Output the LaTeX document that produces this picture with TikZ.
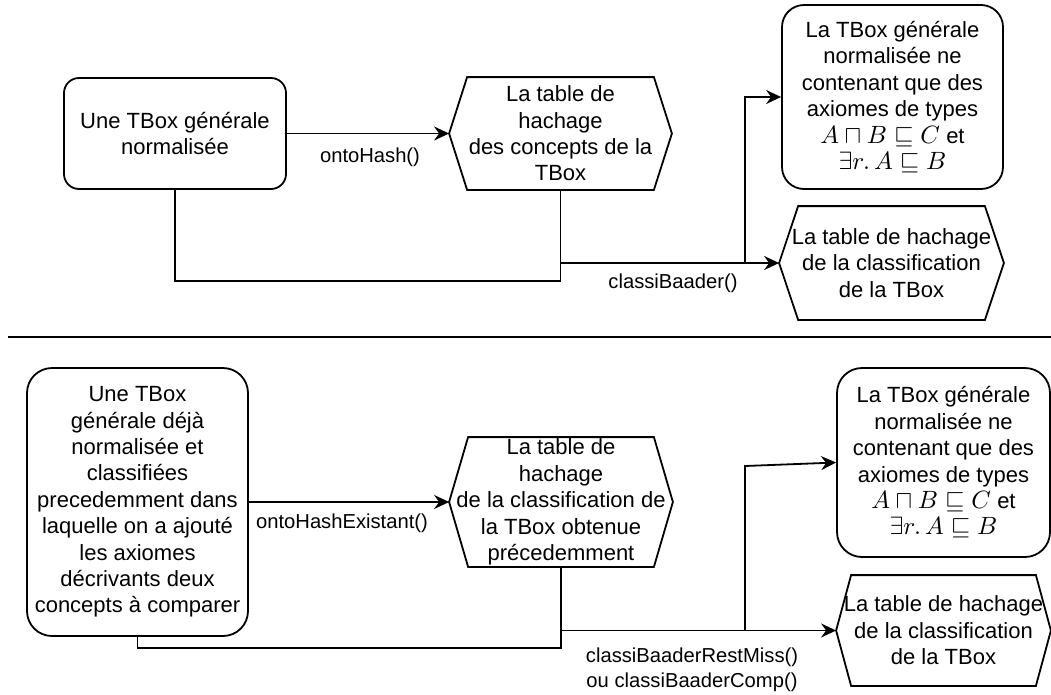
\documentclass[tikz,border=0pt]{standalone}
\usepackage{graphicx}
\usepackage{fontspec}
\setmainfont{Liberation Sans}
\usetikzlibrary{arrows.meta}

% hexagonal outline around a (rectangular, undrawn) node: name, slant
\newcommand\hexoutline[2]{%
  \draw (#1.west) -- ([xshift=#2]#1.north west) -- ([xshift=-#2]#1.north east)
    -- (#1.east) -- ([xshift=-#2]#1.south east) -- ([xshift=#2]#1.south west) -- cycle;}
% formula set at 10pt and scaled up to about 25pt
\newcommand\bigformula[1]{{\fontsize{10}{12}\selectfont\scalebox{2.5}{$#1$}}}

\begin{document}
\begin{tikzpicture}[x=1pt,y=-1pt,
  line width=1.8pt,
  boxtext/.style={font=\fontsize{22}{26.4}\selectfont, align=center, inner sep=0pt},
  roundbox/.style={boxtext, draw, rounded corners=#1},
  hexbox/.style={boxtext},
  lbl/.style={font=\fontsize{20.2}{25}\selectfont, align=center, inner sep=0pt},
  flow/.style={-{Stealth[length=15pt,width=14pt,inset=5pt]}}
]
\useasboundingbox (0,0) rectangle (1051,694);

% ---------- first stage ----------
\node[roundbox=15pt, minimum width=222pt, minimum height=111pt] (a1) at (175,133.5)
  {Une TBox générale\\normalisée};
\node[hexbox, minimum width=221pt, minimum height=111pt] (h1) at (560.5,133.5)
  {La table de\\hachage\\des concepts de la\\TBox};
\hexoutline{h1}{18pt}
\node[roundbox=22pt, minimum width=221pt, minimum height=184pt] (b1) at (892.5,97)
  {La TBox générale\\normalisée ne\\contenant que des\\axiomes de types\\\bigformula{A\sqcap B\sqsubseteq C} et\\\bigformula{\exists r.\,A\sqsubseteq B}};
\node[hexbox, minimum width=223pt, minimum height=112pt] (h2) at (891.5,263)
  {La table de hachage\\de la classification\\de la TBox};
\hexoutline{h2}{19pt}

\draw[flow] (a1.east) -- (h1.west);
\node[lbl] (l1) at (370,157) {ontoHash()};

\coordinate (j1) at (560.5,281);
\draw (a1.south) |- (j1) -- (h1.south);
\draw[flow] (h1.south) |- (h2.west);
\coordinate (k1) at (745,263);
\draw[flow] (k1) |- (b1.west);
\node[lbl] (l2) at (673,283) {classiBaader()};

% ---------- separator ----------
\coordinate (sepL) at (8,337);
\coordinate (sepR) at (1051,337);
\draw (sepL) -- (sepR);

% ---------- second stage ----------
\node[roundbox=25pt, minimum width=221pt, minimum height=268pt] (a2) at (137.5,502)
  {Une TBox\\générale déjà\\normalisée et\\classifiées\\precedemment dans\\laquelle on a ajouté\\les axiomes\\décrivants deux\\concepts à comparer};
\node[hexbox, minimum width=222pt, minimum height=128pt] (h3) at (561,502)
  {La table de\\hachage\\de la classification de\\la TBox obtenue\\précedemment};
\hexoutline{h3}{19pt}
\node[roundbox=25pt, minimum width=213pt, minimum height=189pt] (b2) at (943.5,462.5)
  {La TBox générale\\normalisée ne\\contenant que des\\axiomes de types\\\bigformula{A\sqcap B\sqsubseteq C} et\\\bigformula{\exists r.\,A\sqsubseteq B}};
\node[hexbox, minimum width=213pt, minimum height=109pt] (h4) at (943.5,630.5)
  {La table de hachage\\de la classification\\de la TBox};
\hexoutline{h4}{15pt}

\draw[flow] (a2.east) -- (h3.west);
\node[lbl] (l3) at (342,523) {ontoHashExistant()};

\coordinate (j2) at (561,648);
\draw (a2.south) |- (j2) -- (h3.south);
\draw[flow] (h3.south) |- (h4.west);
\coordinate (k2) at (745,630.5);
\coordinate (k3) at (745,466);
\draw[flow] (k2) -- (k3) -- (b2.west);
\node[lbl] (l4) at (692,670) {classiBaaderRestMiss()\\ou classiBaaderComp()};
\end{tikzpicture}
\end{document}
